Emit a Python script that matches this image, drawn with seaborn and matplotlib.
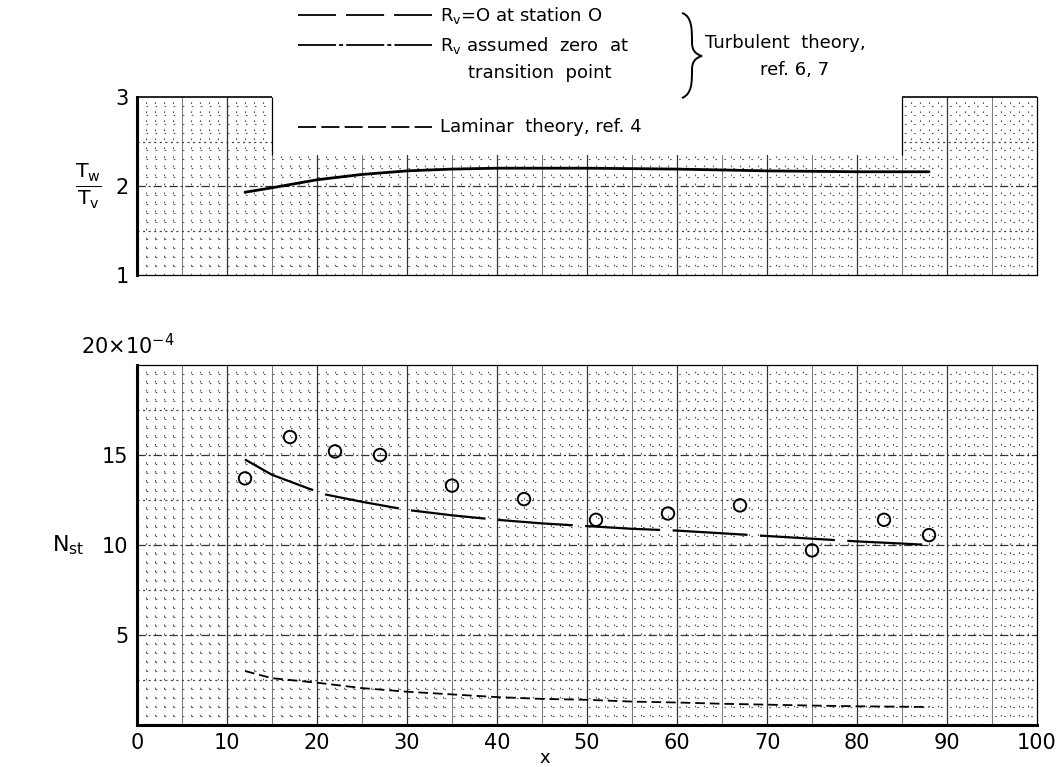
import matplotlib
matplotlib.use("Agg")
import matplotlib.pyplot as plt
import matplotlib.transforms as mtransforms
import numpy as np
import seaborn as sns
from matplotlib.lines import Line2D
from matplotlib.patches import PathPatch, Rectangle
from matplotlib.path import Path

# wall-to-free-stream temperature ratio along the body
x_temp = [12, 15, 20, 25, 30, 35, 40, 50, 60, 70, 80, 88]
temp_ratio = [1.93, 1.98, 2.07, 2.13, 2.17, 2.19, 2.2, 2.2, 2.19, 2.17, 2.16, 2.16]

# measured Stanton number (x 10^-4)
x_meas = [12, 17, 22, 27, 35, 43, 51, 59, 67, 75, 83, 88]
nst_meas = [13.7, 16.0, 15.2, 15.0, 13.3, 12.55, 11.4, 11.75, 12.2, 9.7, 11.4, 10.55]

# turbulent theory (x 10^-4)
x_turb = [12, 15, 19, 21, 25, 30, 35, 40, 45, 50, 55, 60, 65, 70, 75, 80, 85, 88]
nst_turb = [14.75, 13.9, 13.15, 12.8, 12.4, 11.95, 11.65, 11.4, 11.2, 11.05,
            10.9, 10.8, 10.65, 10.5, 10.35, 10.2, 10.08, 10.0]

# laminar theory (x 10^-4)
x_lam = [12, 15, 20, 25, 30, 35, 40, 45, 50, 55, 60, 65, 70, 75, 80, 88]
nst_lam = [3.0, 2.6, 2.35, 2.05, 1.85, 1.7, 1.55, 1.45, 1.4, 1.3, 1.25, 1.18,
           1.13, 1.08, 1.04, 1.0]

x_ticks = list(range(0, 101, 10))

sns.set_theme(style="white")
plt.rcParams["font.family"] = ["DejaVu Sans"]
plt.rcParams["text.color"] = "black"
plt.rcParams["lines.scale_dashes"] = False
plt.rcParams["mathtext.fontset"] = "dejavusans"

W, H = 1063, 767
fig = plt.figure(figsize=(W / 100, H / 100), dpi=100)
fig.patch.set_facecolor("white")
ax_t = fig.add_axes([137 / W, 1 - 275 / H, 900 / W, 178 / H])
ax_b = fig.add_axes([137 / W, 1 - 725 / H, 900 / W, 360 / H])

DOT = (0, (1.2, 5.3))


def paper_grid(ax, y0, y1, y_minor, y_mid, y_major):
    ax.set_xlim(0, 100)
    ax.set_ylim(y0, y1)
    for xv in range(1, 100):
        if xv % 10 == 0:
            ax.axvline(xv, color="#333333", lw=0.9, zorder=1)
        elif xv % 5 == 0:
            ax.axvline(xv, color="#777777", lw=0.7, zorder=1)
        else:
            ax.axvline(xv, color="#555555", lw=0.8, ls=DOT, zorder=1)
    for yv in np.arange(y0 + y_minor, y1 - y_minor / 2, y_minor):
        yv = round(yv, 4)
        if abs(yv / y_major - round(yv / y_major)) < 1e-6:
            ax.axhline(yv, color="#333333", lw=0.9, ls=(0, (6, 2, 1.5, 2)), zorder=1)
        elif abs(yv / y_mid - round(yv / y_mid)) < 1e-6:
            ax.axhline(yv, color="#444444", lw=0.9, ls=(0, (1.5, 2.5)), zorder=1)
        else:
            ax.axhline(yv, color="#555555", lw=0.8, ls=DOT, zorder=1)
    ax.tick_params(length=0, labelsize=15, pad=6, colors="black")
    for s in ax.spines.values():
        s.set_color("black")
        s.set_linewidth(0.9)
    ax.spines["left"].set_linewidth(2.2)


# ---- top panel: Tw / Tv ----
paper_grid(ax_t, 1, 3, 0.1, 0.5, 1.0)
ax_t.add_patch(Rectangle((15, 2.35), 70, 0.7, facecolor="white",
                         edgecolor="none", zorder=1.5))
ax_t.spines["top"].set_visible(False)
ax_t.hlines(3, 0, 15, color="black", lw=1.2, zorder=2, clip_on=False)
ax_t.hlines(3, 85, 100, color="black", lw=1.2, zorder=2, clip_on=False)
ax_t.vlines([15, 85], 2.35, 3, color="black", lw=0.9, zorder=2)
sns.lineplot(x=x_temp, y=temp_ratio, ax=ax_t, color="black", lw=2,
             estimator=None, zorder=3)
ax_t.set_yticks([1, 2, 3])
ax_t.set_yticklabels(["1", "2", "3"])
ax_t.set_xticks(x_ticks)
ax_t.set_xticklabels([])
ax_t.text(-0.054, 2, r"$\frac{\mathrm{T_w}}{\mathrm{T_v}}$", fontsize=21,
          ha="center", va="center",
          transform=mtransforms.blended_transform_factory(ax_t.transAxes, ax_t.transData))

# ---- bottom panel: Stanton number ----
paper_grid(ax_b, 0, 20, 0.5, 2.5, 5.0)
ax_b.spines["bottom"].set_linewidth(2.2)
sns.lineplot(x=x_turb, y=nst_turb, ax=ax_b, color="black", lw=1.6,
             linestyle=(0, (54, 9)), estimator=None, zorder=3)
sns.lineplot(x=x_lam, y=nst_lam, ax=ax_b, color="black", lw=1.3,
             linestyle=(0, (7, 3.5)), estimator=None, zorder=3)
sns.scatterplot(x=x_meas, y=nst_meas, ax=ax_b, marker="o", s=80,
                facecolor="none", edgecolor="black", linewidth=1.4, zorder=4)
ax_b.set_xticks(x_ticks)
ax_b.set_xticklabels([str(v) for v in x_ticks])
ax_b.set_yticks([5, 10, 15])
ax_b.set_yticklabels(["5", "10", "15"])
ax_b.text(-0.062, 20.4, r"20$\times$10$^{-4}$", fontsize=15, ha="left", va="bottom",
          transform=mtransforms.blended_transform_factory(ax_b.transAxes, ax_b.transData))
ax_b.text(-0.076, 10, r"N$_\mathregular{st}$", fontsize=16, ha="center", va="center",
          transform=mtransforms.blended_transform_factory(ax_b.transAxes, ax_b.transData))

# ---- key at top of the sheet ----
px = mtransforms.Affine2D().scale(1 / W, -1 / H).translate(0, 1) + fig.transFigure
fig.text(545, 758, "x", transform=px, fontsize=13, ha="center", va="center")
key_styles = [(15, (0, (27.4, 7.2))),
              (45, (0, (27.4, 2.2, 2.9, 2.2))),
              (127, (0, (13, 3.8)))]
for ky, ls in key_styles:
    fig.add_artist(Line2D([298, 432], [ky, ky], transform=px, color="black",
                          lw=1.3, linestyle=ls))
fs = 13
fig.text(440, 15, r"R$_\mathregular{v}$=O at station O", transform=px,
         fontsize=fs, va="center", ha="left")
fig.text(440, 45, r"R$_\mathregular{v}$ assumed  zero  at", transform=px,
         fontsize=fs, va="center", ha="left")
fig.text(540, 73, "transition  point", transform=px, fontsize=fs,
         va="center", ha="center")
fig.text(440, 127, "Laminar  theory, ref. 4", transform=px, fontsize=fs,
         va="center", ha="left")
fig.text(705, 43, "Turbulent  theory,", transform=px, fontsize=fs,
         va="center", ha="left")
fig.text(760, 70, "ref. 6, 7", transform=px, fontsize=fs,
         va="center", ha="left")

# curly brace grouping the two turbulent entries
brace_verts = [(682, 13), (692, 16), (692, 30), (692, 42),
               (692, 50), (695, 54), (702, 56),
               (695, 58), (692, 62), (692, 70),
               (692, 82), (692, 94), (682, 98)]
brace_codes = [Path.MOVETO] + [Path.CURVE4] * 3 + [Path.CURVE4] * 3 + \
              [Path.CURVE4] * 3 + [Path.CURVE4] * 3
fig.add_artist(PathPatch(Path(brace_verts, brace_codes), transform=px,
                         facecolor="none", edgecolor="black", lw=1.4))

fig.savefig("out.png", dpi=100, facecolor="white")
